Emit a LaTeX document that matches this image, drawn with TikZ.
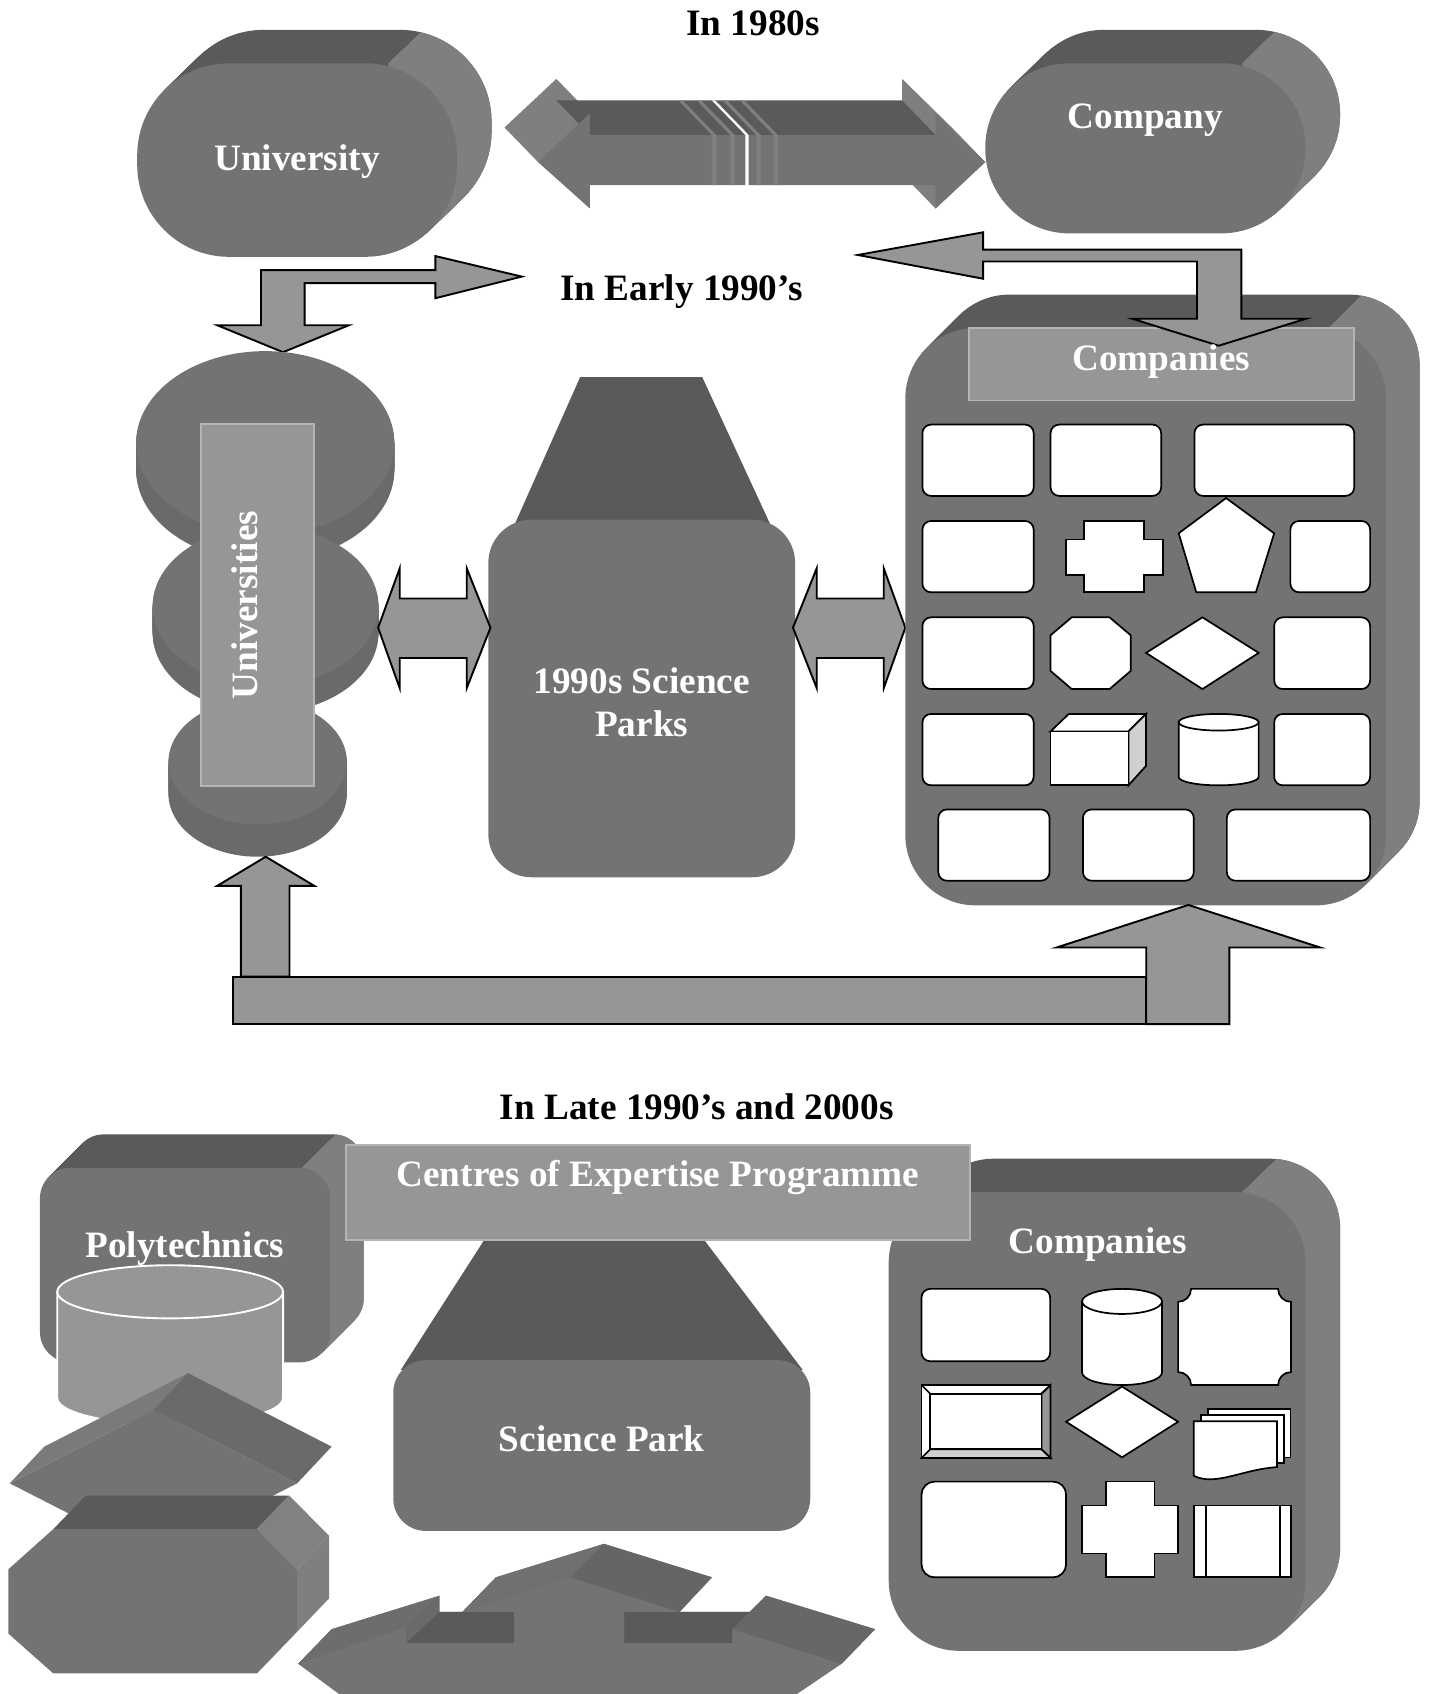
\documentclass[tikz,border=0pt]{standalone}
\usepackage{fontspec}
\setmainfont{Liberation Serif}
\usetikzlibrary{positioning}
\definecolor{KFace}{HTML}{737373}
\definecolor{KTop}{HTML}{5A5A5A}
\definecolor{KSide}{HTML}{7F7F7F}
\definecolor{KRim}{HTML}{6A6A6A}
\definecolor{KArrow}{HTML}{969696}
\definecolor{KEdge}{HTML}{B4B4B4}
\definecolor{KCard}{HTML}{D0D0D0}

% extruded rounded block: x1,y1,x2,y2 (front), dx,dy (depth), corner, x where the side starts
\newcommand\slab[8]{%
  \foreach \k in {24,23,...,1}{\fill[topface,rounded corners=#7,shift={({\k*(#5)/24},{\k*(#6)/24})}] (#1,#2) rectangle (#3,#4);}
  \begin{scope}
    \clip (#8,#2) -- ++({20*(#5)},{20*(#6)}) -- (1500,-100) -- (1500,1700) -- (#8,1700) -- cycle;
    \foreach \k in {24,23,...,1}{\fill[sideface,rounded corners=#7,shift={({\k*(#5)/24},{\k*(#6)/24})}] (#1,#2) rectangle (#3,#4);}
  \end{scope}
  \fill[face,rounded corners=#7] (#1,#2) rectangle (#3,#4);}
% flat drum seen from above: cx,cy,rx,ry,depth
\newcommand\drum[5]{%
  \foreach \k in {20,19,...,1}{\fill[rimface] (#1,{#2+\k*(#5)/20}) ellipse [x radius=#3,y radius=#4];}
  \fill[face] (#1,#2) ellipse [x radius=#3,y radius=#4];}

\begin{document}
\begin{tikzpicture}[x=0.01cm,y=-0.01cm,
    face/.style={fill=KFace},
    topface/.style={fill=KTop},
    sideface/.style={fill=KSide},
    rimface/.style={fill=KRim},
    blockarrow/.style={fill=KArrow,draw=black,line width=0.5pt},
    labelbox/.style={fill=KArrow,draw=KEdge,line width=0.5pt},
    wbox/.style={fill=white,draw=black,line width=0.45pt,rounded corners=0.08cm},
    wshape/.style={fill=white,draw=black,line width=0.45pt},
    heading/.style={font=\fontsize{9.8}{11.4}\selectfont\bfseries,text=black},
    facetext/.style={font=\fontsize{9.8}{11.4}\selectfont\bfseries,text=white,align=center}]
  \clip (0,0) rectangle (1324,1568);

  % ---- in 1980s ----
  \node[heading] (h80) at (697,22) {In 1980s};
  \slab{127}{58.6}{423}{237.7}{32}{-31}{0.85cm}{360}
  \node[facetext] (uni) at (275,150) {University};
  \slab{912}{58.6}{1208.4}{216}{32}{-31}{0.78cm}{1150}
  \node[facetext] (comp) at (1060,111) {Company};
  % broken two-way arrow
  \fill[sideface] (467,118) -- (515,73) -- (546,105) -- (546,171) -- (498,150) -- cycle;
  \fill[sideface] (835,73) -- (881,118) -- (912,150) -- (866,193) -- (835,161) -- cycle;
  \fill[topface] (515,93) -- (835,93) -- (866,125) -- (546,125) -- cycle;
  \fill[face] (498,150) -- (546,105) -- (546,125) -- (866,125) -- (866,105) -- (912,150)
    -- (866,193) -- (866,171.3) -- (546,171.3) -- (546,193) -- cycle;
  \foreach \s in {659,676,700,716}{
    \fill[sideface] (\s,171.3) -- (\s,125) -- (\s-31,93) -- (\s-27,93) -- (\s+4,125) -- (\s+4,171.3) -- cycle;}
  \fill[white] (690,172) -- (690,125) -- (659,93) -- (662,93) -- (693,125) -- (693,172) -- cycle;

  % ---- in early 1990s ----
  \node[heading] (h90) at (631,270) {In Early 1990’s};
  \draw[blockarrow] (241.6,301) -- (201,301) -- (262,326) -- (323,301) -- (282,301) -- (282,262)
    -- (403,262) -- (403,276) -- (483,256) -- (403,237) -- (403,250) -- (241.6,250) -- cycle;
  % universities
  \drum{245.5}{410}{119.5}{85}{25}
  \drum{245.8}{561}{104.5}{74}{25}
  \drum{238.5}{705}{82.5}{58}{30}
  \draw[labelbox] (186.1,392.4) rectangle (291,727.5);
  \node[facetext,rotate=90] (unis) at (227,560) {Universities};
  % science parks
  \fill[topface] (537,349) -- (650,349) -- (729,520) -- (461,520) -- cycle;
  \fill[face,rounded corners=0.4cm] (452,481) rectangle (736,812);
  \node[facetext] (sp90) at (594,650) {1990s Science\\Parks};
  \draw[blockarrow] (350,581) -- (370,526) -- (370,554) -- (432,554) -- (432,526) -- (454,581)
    -- (432,637) -- (432,609) -- (370,609) -- (370,637) -- cycle;
  \draw[blockarrow] (734,581) -- (756,526) -- (756,554) -- (818,554) -- (818,526) -- (838,581)
    -- (818,637) -- (818,609) -- (756,609) -- (756,637) -- cycle;
  % companies
  \slab{838}{303.7}{1283}{838}{31}{-31}{0.65cm}{1230}
  \draw[labelbox] (897,303.5) rectangle (1253,370.7);
  \draw[blockarrow] (1108,295) -- (1048,295) -- (1128,320) -- (1209,295) -- (1149,295) -- (1149,231)
    -- (910,231) -- (910,215) -- (794,236) -- (910,258) -- (910,242) -- (1108,242) -- cycle;
  \node[facetext] (comps) at (1075,335) {Companies};
  \draw[wbox] (853.8,393) rectangle (956.8,459);
  \draw[wbox] (972.4,393) rectangle (1074.8,459);
  \draw[wbox] (1105.6,393) rectangle (1253.5,459);
  \draw[wbox] (853.8,482.2) rectangle (956.8,548.2);
  \draw[wshape] (1003.3,482.2) -- (1059.2,482.2) -- (1059.2,499.4) -- (1076.5,499.4) -- (1076.5,532)
    -- (1059.2,532) -- (1059.2,548.2) -- (1003.3,548.2) -- (1003.3,532) -- (986.5,532)
    -- (986.5,499.4) -- (1003.3,499.4) -- cycle;
  \draw[wshape] (1134.9,461) -- (1179.4,493.6) -- (1162.5,548.2) -- (1107.3,548.2) -- (1091,493.6) -- cycle;
  \draw[wbox] (1194.4,482.2) rectangle (1268.2,548.2);
  \draw[wbox] (853.8,571.4) rectangle (956.8,637.8);
  \draw[wshape] (992,571.4) -- (1027,571.4) -- (1046.6,588) -- (1046.6,621) -- (1027,637.8)
    -- (992,637.8) -- (972.4,621) -- (972.4,588) -- cycle;
  \draw[wshape] (1060.8,604.3) -- (1113,571.4) -- (1165.1,604.3) -- (1113,637.8) -- cycle;
  \draw[wbox] (1179.4,571.4) rectangle (1268.2,637.8);
  \draw[wbox] (853.8,660.8) rectangle (956.8,726.9);
  \draw[wshape] (972.4,677) -- (989.3,660.8) -- (1060.8,660.8) -- (1044.5,677) -- cycle;
  \draw[wshape,fill=KCard] (1044.5,677) -- (1060.8,660.8) -- (1060.8,708.9) -- (1044.5,726.9) -- cycle;
  \draw[wshape] (972.4,677) rectangle (1044.5,726.9);
  \draw[wshape] (1091,668.5) -- (1091,719.2) arc [start angle=180,end angle=0,x radius=37,y radius=7.7] -- (1165,668.5) -- cycle;
  \draw[wshape] (1128,668.5) ellipse [x radius=37,y radius=7.7];
  \draw[wbox] (1179.4,660.8) rectangle (1268.2,726.9);
  \draw[wbox] (868.5,749.2) rectangle (971.5,815.2);
  \draw[wbox] (1002.4,749.2) rectangle (1105,815.2);
  \draw[wbox] (1135.6,749.2) rectangle (1268.2,815.2);
  % feedback loop
  \draw[blockarrow] (216,904) rectangle (1061,948);
  \draw[blockarrow] (223,904) -- (223,820) -- (201,820) -- (246,793) -- (291,820) -- (268,820) -- (268,904) -- cycle;
  \draw[blockarrow] (1061,948) -- (1061,877) -- (978,877) -- (1100,837.6) -- (1222,877) -- (1138,877) -- (1138,948) -- cycle;

  % ---- in late 1990s and 2000s ----
  \node[heading] (hlate) at (645,1024) {In Late 1990’s and 2000s};
  % polytechnics
  \slab{37}{1081}{305.6}{1261}{31}{-31}{0.28cm}{280}
  \draw[fill=KArrow,draw=white,line width=0.5pt] (53,1195.7) -- (53,1294)
    arc [start angle=180,end angle=0,x radius=104.5,y radius=24.6] -- (262,1195.7) -- cycle;
  \draw[fill=KArrow,draw=white,line width=0.5pt] (157.5,1195.7) ellipse [x radius=104.5,y radius=24.6];
  \node[facetext] (poly) at (171,1156) {Polytechnics};
  \fill[fill=KFace] (9,1373) -- (142,1305) -- (275,1373) -- (142,1441) -- cycle;
  \fill[fill=KFace!95!white] (9,1373) -- (41,1339) -- (174,1271) -- (142,1305) -- cycle;
  \fill[fill=KFace!92!black] (142,1305) -- (174,1271) -- (307,1339) -- (275,1373) -- cycle;
  \fill[topface] (49.4,1415.3) -- (79.4,1384.3) -- (267.7,1384.3) -- (237.7,1415.3) -- cycle;
  \fill[fill=KFace!90!white] (237.7,1415.3) -- (267.7,1384.3) -- (304.7,1421.6) -- (274.7,1452.6) -- cycle;
  \fill[sideface] (274.7,1452.6) -- (304.7,1421.6) -- (304.7,1479.4) -- (267.7,1518) -- (237.7,1549) -- (274.7,1510.4) -- cycle;
  \fill[face] (7.7,1452.6) -- (49.4,1415.3) -- (237.7,1415.3) -- (274.7,1452.6) -- (274.7,1510.4)
    -- (237.7,1549) -- (49.4,1549) -- (7.7,1512) -- cycle;
  % companies
  \slab{822.6}{1103.5}{1208.5}{1528}{32}{-31}{0.65cm}{1150}
  \node[facetext] (comps2) at (1016,1152) {Companies};
  \draw[wbox] (853,1193) rectangle (972,1260);
  \draw[wshape] (1001.6,1204.6) -- (1001.6,1270.4) arc [start angle=180,end angle=0,x radius=37,y radius=11.6] -- (1075.6,1204.6) -- cycle;
  \draw[wshape] (1038.6,1204.6) ellipse [x radius=37,y radius=11.6];
  \draw[wshape] (1102.5,1193) -- (1183,1193) arc [start angle=180,end angle=90,radius=12] -- (1195,1270)
    arc [start angle=270,end angle=180,radius=12] -- (1102.5,1282) arc [start angle=360,end angle=270,radius=12]
    -- (1090.5,1205) arc [start angle=90,end angle=0,radius=12] -- cycle;
  \draw[wshape] (853,1282) rectangle (972.4,1349.5);
  \draw[wshape,fill=KArrow] (972.4,1282) -- (964,1290) -- (964,1341.5) -- (972.4,1349.5) -- cycle;
  \draw[wshape,fill=KCard] (853,1349.5) -- (861,1341.5) -- (964,1341.5) -- (972.4,1349.5) -- cycle;
  \draw[wshape] (853,1282) -- (861,1290) (972.4,1282) -- (964,1290);
  \draw[wshape] (861,1290) rectangle (964,1341.5);
  \draw[wshape] (986.8,1316) -- (1038.6,1283.4) -- (1090.5,1316) -- (1038.6,1348.9) -- cycle;
  \draw[wshape] (1118,1304) rectangle (1194.6,1349);
  \draw[wshape] (1111.8,1310) rectangle (1188.5,1354);
  \draw[wshape] (1105,1315.5) -- (1182,1315.5) -- (1182,1358) .. controls (1150,1360) and (1125,1376) .. (1105,1366) -- cycle;
  \draw[wbox,rounded corners=0.12cm] (853,1371.4) rectangle (986.8,1460);
  \draw[wshape] (1023.9,1371.4) -- (1068.6,1371.4) -- (1068.6,1393.6) -- (1090.5,1393.6) -- (1090.5,1437.8)
    -- (1068.6,1437.8) -- (1068.6,1460) -- (1023.9,1460) -- (1023.9,1437.8) -- (1001.6,1437.8)
    -- (1001.6,1393.6) -- (1023.9,1393.6) -- cycle;
  \draw[wshape] (1105,1393.6) rectangle (1195,1460);
  \draw[wshape] (1116,1393.6) -- (1116,1460) (1184.6,1393.6) -- (1184.6,1460);
  % science park
  \fill[topface] (448,1148) -- (652,1148) -- (743,1268) -- (371,1268) -- cycle;
  \fill[face,rounded corners=0.3cm] (364,1259) rectangle (750,1417);
  \node[facetext] (sp) at (557,1332) {Science Park};
  % programme banner
  \draw[labelbox] (320,1060) rectangle (898,1148);
  \node[facetext] (coe) at (609,1090) {Centres of Expertise Programme};
  % three-way arrow
  \fill[fill=KFace!92!black] (276,1540) -- (307,1508) -- (407,1477) -- (407,1492) -- (428,1492) -- (459,1460)
    -- (559,1429) -- (659,1460) -- (629,1492) -- (694,1492) -- (709,1477) -- (810,1508) -- (779,1540)
    -- (700,1580) -- (350,1580) -- cycle;
  \fill[topface] (407,1492) -- (476,1492) -- (476,1521) -- (376,1521) -- cycle;
  \fill[topface] (578,1492) -- (694,1492) -- (678,1508) -- (678,1521) -- (578,1521) -- cycle;
  \fill[face] (276,1540) -- (376,1506) -- (376,1521) -- (678,1521) -- (678,1508) -- (779,1540) -- (720,1580) -- (330,1580) -- cycle;
  \fill[face] (476,1492) rectangle (578,1521);
  \fill[face] (428,1492) -- (528,1460) -- (629,1492) -- cycle;
  \fill[fill=KFace!97!black] (459,1460) -- (559,1429) -- (528,1460) -- (428,1492) -- cycle;
  \fill[fill=KFace!88!black] (559,1429) -- (659,1460) -- (629,1492) -- (528,1460) -- cycle;
  \fill[fill=KFace!95!black] (276,1540) -- (307,1508) -- (407,1477) -- (376,1506) -- cycle;
  \fill[fill=KFace!90!black] (709,1477) -- (810,1508) -- (779,1540) -- (678,1508) -- cycle;
\end{tikzpicture}
\end{document}
